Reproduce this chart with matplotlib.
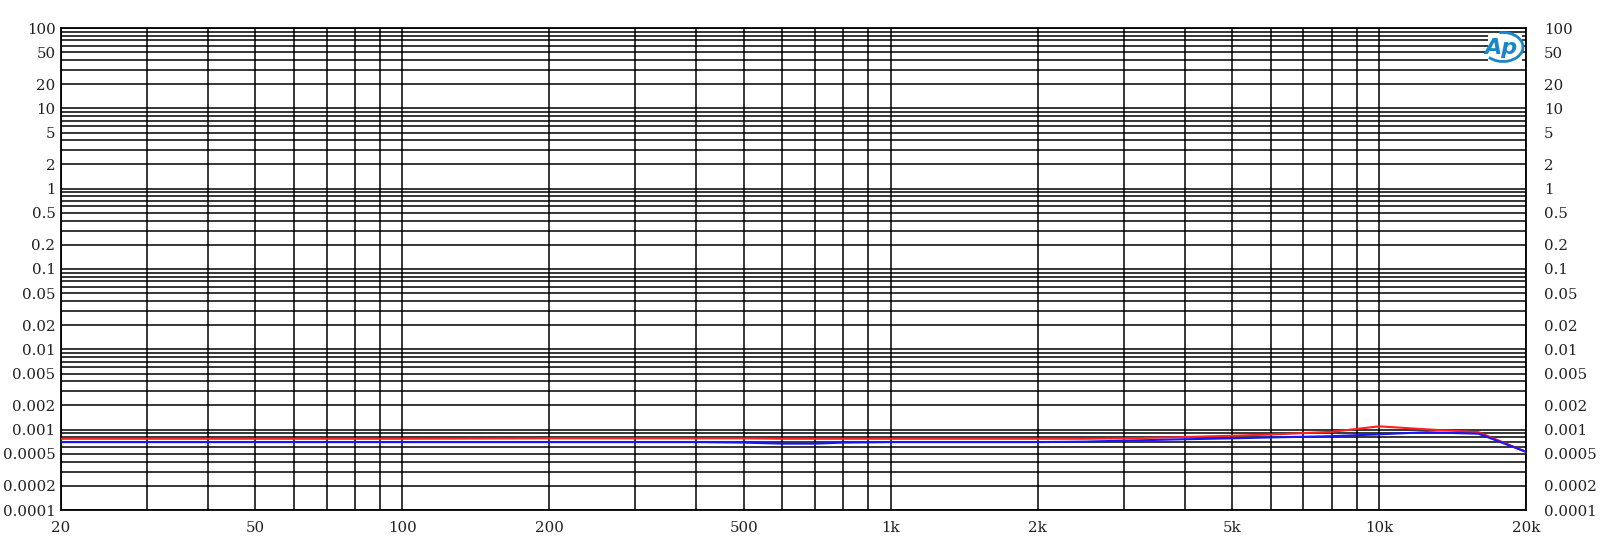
import matplotlib
matplotlib.use("Agg")
import matplotlib.pyplot as plt
import numpy as np
from matplotlib.patches import Arc, Rectangle

freq = [20, 50, 100, 200, 400, 500, 600, 700, 800, 1000, 2000, 2500, 3000,
        4000, 5000, 6000, 8000, 10000, 12500, 16000, 20000]
red = [0.00077, 0.00077, 0.00077, 0.00078, 0.00078, 0.00078, 0.00077, 0.00077,
       0.00077, 0.00077, 0.00077, 0.00077, 0.00078, 0.00081, 0.00084, 0.00087,
       0.00094, 0.0011, 0.00101, 0.00093, 0.00053]
blue = [0.0007, 0.0007, 0.0007, 0.0007, 0.0007, 0.00069, 0.00067, 0.00067,
        0.00069, 0.0007, 0.0007, 0.00071, 0.00073, 0.00076, 0.00078, 0.0008,
        0.00083, 0.000875, 0.00093, 0.00089, 0.00053]

xticks = [20, 50, 100, 200, 500, 1000, 2000, 5000, 10000, 20000]
xlabels = ["20", "50", "100", "200", "500", "1k", "2k", "5k", "10k", "20k"]
yticks = [100, 50, 20, 10, 5, 2, 1, 0.5, 0.2, 0.1, 0.05, 0.02, 0.01, 0.005,
          0.002, 0.001, 0.0005, 0.0002, 0.0001]
ylabels = ["100", "50", "20", "10", "5", "2", "1", "0.5", "0.2", "0.1", "0.05",
           "0.02", "0.01", "0.005", "0.002", "0.001", "0.0005", "0.0002", "0.0001"]

plt.rcParams['font.family'] = ['DejaVu Serif']

fig = plt.figure(figsize=(16.03, 5.52), dpi=100)
ax = fig.add_axes([61/1603, 1-510/552, (1526-61)/1603, (510-28)/552])
ax.set_xscale('log')
ax.set_yscale('log')
ax.set_xlim(20, 20000)
ax.set_ylim(0.0001, 100)

xminor = [m * 10**k for k in range(1, 5) for m in range(1, 10) if 20 <= m * 10**k <= 20000]
yminor = [m * 10.0**k for k in range(-4, 3) for m in range(1, 10) if 0.0001 <= m * 10.0**k <= 100]
ax.set_xticks(xminor, minor=True)
ax.set_yticks(yminor, minor=True)
ax.set_xticks(xticks)
ax.set_xticklabels(xlabels)
ax.set_yticks(yticks)
ax.set_yticklabels(ylabels)
ax.tick_params(which='both', length=0)
ax.tick_params(axis='y', pad=4, labelsize=10.8, colors='#222222')
ax.tick_params(axis='x', pad=8, labelsize=10.8, colors='#222222')
ax.grid(which='both', color='black', lw=1.1)
for s in ax.spines.values():
    s.set_color('black')
    s.set_linewidth(1.3)

ax2 = ax.twinx()
ax2.set_yscale('log')
ax2.set_ylim(0.0001, 100)
ax2.set_yticks(yticks)
ax2.set_yticklabels(ylabels)
ax2.yaxis.set_minor_locator(matplotlib.ticker.NullLocator())
ax2.tick_params(which='both', length=0, pad=13, labelsize=10.8, colors='#222222')
ax2.spines[:].set_visible(False)

ax.plot(freq, red, color='#ff2020', lw=1.5, zorder=5)
ax.plot(freq, blue, color='#1515ff', lw=1.5, zorder=5)

# Ap logo
logo_color = '#1a86c8'
fig.add_artist(Rectangle((1488/1603, 1-61/552), 34/1603, 27/552,
                         transform=fig.transFigure, facecolor='white',
                         edgecolor='none', zorder=9))
fig.text(1501/1603, 1-48/552, "Ap", color=logo_color, fontsize=16, style='italic',
         weight='bold', family='DejaVu Sans', ha='center', va='center', zorder=10)
arc = Arc((1503/1603, 1-47/552), 40/1603, 29/552, theta1=-115, theta2=95,
          transform=fig.transFigure, color=logo_color, lw=2.0, zorder=10)
fig.add_artist(arc)

fig.savefig("out.png", dpi=100)
